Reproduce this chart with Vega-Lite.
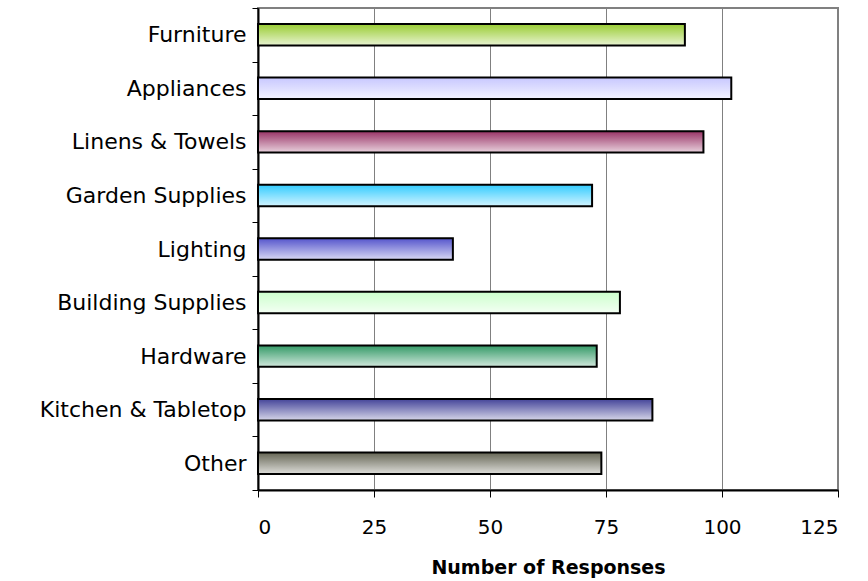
{
  "$schema": "https://vega.github.io/schema/vega-lite/v6.json",
  "width": 580,
  "height": 482,
  "autosize": {"type": "none"},
  "padding": {"left": 258, "top": 8, "right": 30, "bottom": 91},
  "background": "white",
  "config": {
    "view": {"stroke": "#808080", "strokeWidth": 2},
    "font": "DejaVu Sans"
  },
  "data": {
    "values": [
      {"category": "Furniture", "responses": 92},
      {"category": "Appliances", "responses": 102},
      {"category": "Linens & Towels", "responses": 96},
      {"category": "Garden Supplies ", "responses": 72},
      {"category": "Lighting", "responses": 42},
      {"category": "Building Supplies", "responses": 78},
      {"category": "Hardware", "responses": 73},
      {"category": "Kitchen & Tabletop", "responses": 85},
      {"category": "Other", "responses": 74}
    ]
  },
  "encoding": {
    "y": {
      "field": "category",
      "type": "nominal",
      "sort": null,
      "scale": {"paddingInner": 0, "paddingOuter": 0},
      "axis": {
        "title": null,
        "tickBand": "extent",
        "tickSize": 6,
        "tickColor": "#000000",
        "tickWidth": 1,
        "domainColor": "#000000",
        "domainWidth": 2,
        "labelFontSize": 22,
        "labelColor": "#000000",
        "labelPadding": 6,
        "labelLimit": 300,
        "labelFont": "DejaVu Sans",
        "labelFontWeight": "normal",
        "grid": false
      }
    },
    "x": {
      "field": "responses",
      "type": "quantitative",
      "scale": {"domain": [0, 125], "nice": false},
      "axis": {
        "title": "Number of Responses",
        "values": [0, 25, 50, 75, 100, 125],
        "grid": true,
        "gridColor": "#808080",
        "gridWidth": 1,
        "gridOpacity": 1,
        "tickSize": 7,
        "tickColor": "#000000",
        "domainColor": "#000000",
        "domainWidth": 2,
        "labelFontSize": 20,
        "labelColor": "#000000",
        "labelPadding": 20,
        "labelFont": "DejaVu Sans",
        "titleFontSize": 19,
        "titleFontWeight": "bold",
        "titleColor": "#000000",
        "titlePadding": 21,
        "titleFont": "DejaVu Sans"
      }
    }
  },
  "layer": [
    {
      "mark": {"type": "bar", "height": {"band": 0.4}, "cornerRadius": 0},
      "encoding": {
        "color": {
          "field": "category",
          "type": "nominal",
          "legend": null,
          "scale": {
            "domain": ["Furniture", "Appliances", "Linens & Towels", "Garden Supplies ", "Lighting", "Building Supplies", "Hardware", "Kitchen & Tabletop", "Other"],
            "range": ["#99cc33", "#c8c8ff", "#993366", "#33ccff", "#5555cc", "#ccffcc", "#339966", "#444499", "#666655"]
          }
        }
      }
    },
    {
      "mark": {
        "type": "bar",
        "height": {"band": 0.4},
        "stroke": "#000000",
        "strokeWidth": 2,
        "fill": {
          "gradient": "linear",
          "x1": 0, "y1": 0, "x2": 0, "y2": 1,
          "stops": [
            {"offset": 0, "color": "rgba(255,255,255,0)"},
            {"offset": 1, "color": "rgba(255,255,255,0.78)"}
          ]
        }
      }
    }
  ]
}
